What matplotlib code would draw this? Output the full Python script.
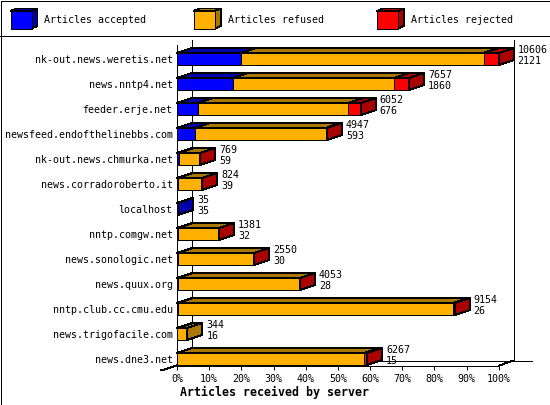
"""Articles received by server: stacked pseudo-3D horizontal bars."""

import matplotlib
matplotlib.use('Agg')
import matplotlib.pyplot as plt
from matplotlib.patches import Polygon

plt.rcParams['font.family'] = ['DejaVu Sans Mono']
plt.rcParams['lines.antialiased'] = False
plt.rcParams['patch.antialiased'] = False

servers = ['nk-out.news.weretis.net', 'news.nntp4.net', 'feeder.erje.net',
           'newsfeed.endofthelinebbs.com', 'nk-out.news.chmurka.net',
           'news.corradoroberto.it', 'localhost', 'nntp.comgw.net',
           'news.sonologic.net', 'news.quux.org', 'nntp.club.cc.cmu.edu',
           'news.trigofacile.com', 'news.dne3.net']
totals = [10606, 7657, 6052, 4947, 769, 824, 35, 1381, 2550, 4053, 9154, 344, 6267]
accepted = [2121, 1860, 676, 593, 59, 39, 35, 32, 30, 28, 26, 16, 15]
refused = [7985, 5287, 4961, 4304, 706, 781, 0, 1345, 2516, 4017, 9068, 328, 6152]
rejected = [500, 510, 415, 50, 4, 4, 0, 4, 4, 8, 60, 0, 100]
pct_ticks = [0, 10, 20, 30, 40, 50, 60, 70, 80, 90, 100]

series = [('Articles accepted', accepted, '#0000FF', '#0000AA'),
          ('Articles refused', refused, '#FFB000', '#AA7700'),
          ('Articles rejected', rejected, '#FF0000', '#AA0000')]

W, H = 550, 405
LEFT, RIGHT = 177, 498.7      # front plane, px
TOP, FLOOR = 45, 365.7
FIRST_ROW, ROW_STEP = 59, 25
BAR_PX = 12
DEPTH_X, DEPTH_Y = 15, 5
LW = 0.7
FS = 7.2
PT = 72 / 100                 # points per pixel at dpi=100

fig = plt.figure(figsize=(W / 100, H / 100), dpi=100, facecolor='white')

# pixel canvas for frame, legend and the back walls
bg = fig.add_axes([0, 0, 1, 1], zorder=0)
bg.set_xlim(0, W)
bg.set_ylim(H, 0)
bg.axis('off')


def px_line(x, y):
    bg.plot(x, y, color='black', lw=LW, solid_capstyle='butt')


px_line([0.5, 549.5, 549.5, 0.5, 0.5], [0.5, 0.5, 404.5, 404.5, 0.5])
px_line([0, 550], [35.5, 35.5])
px_line([191.5, 191.5], [40, 360.5])
px_line([513.5, 513.5], [40, 360.5])
px_line([191, 532], [360.5, 360.5])
px_line([161, 191.5], [370.5, 360.5])
px_line([498.7, 513.5], [365.7, 360.5])

for i, (name, _, front, side) in enumerate(series):
    x0 = 10.5 + i * 183.2
    bg.add_patch(Polygon([(x0, 11), (x0 + 6, 8.5), (x0 + 27, 8.5), (x0 + 21, 11)],
                         fc=side, ec='black', lw=LW))
    bg.add_patch(Polygon([(x0 + 21, 11), (x0 + 27, 8.5), (x0 + 27, 26), (x0 + 21, 28.5)],
                         fc=side, ec='black', lw=LW))
    bg.add_patch(Polygon([(x0, 11), (x0 + 21, 11), (x0 + 21, 28.5), (x0, 28.5)],
                         fc=front, ec='black', lw=LW))
    bg.text(x0 + 34, 20, name, fontsize=FS, va='center', ha='left')

# front plane axes, real data scale
ax = fig.add_axes([LEFT / W, 1 - FLOOR / H, (RIGHT - LEFT) / W, (FLOOR - TOP) / H],
                  zorder=1)
ax.patch.set_alpha(0)
max_total = max(totals)
ax.set_xlim(0, max_total)
ax.set_ylim((FLOOR - FIRST_ROW) / ROW_STEP, (TOP - FIRST_ROW) / ROW_STEP)
for s in ('top', 'right'):
    ax.spines[s].set_visible(False)
for s in ('left', 'bottom'):
    ax.spines[s].set_linewidth(LW)

ax.set_xticks([p / 100 * max_total for p in pct_ticks])
ax.set_xticklabels([f'{p}%' for p in pct_ticks], fontsize=FS)
ax.set_yticks(range(len(servers)))
ax.set_yticklabels(servers, fontsize=FS)
ax.tick_params(axis='x', length=4 * PT, width=LW, pad=4 * PT)
ax.tick_params(axis='y', length=0, pad=4.5 * PT)
ax.set_xlabel('Articles received by server', fontsize=8.4, fontweight='bold')
ax.xaxis.set_label_coords((274 - LEFT) / (RIGHT - LEFT), -(386 - FLOOR) / (FLOOR - TOP))

dx = DEPTH_X * max_total / (RIGHT - LEFT)
dy = DEPTH_Y / ROW_STEP
half = BAR_PX / ROW_STEP / 2


def add_face(points, color):
    ax.add_patch(Polygon(points, fc=color, ec='black', lw=LW, clip_on=False,
                         joinstyle='miter'))


for row in range(len(servers)):
    start = 0
    last_side = None
    for _, values, front, side in series:
        v = values[row]
        if v == 0:
            continue
        end = start + v
        add_face([(start, row - half), (start + dx, row - half - dy),
                  (end + dx, row - half - dy), (end, row - half)], side)
        add_face([(start, row - half), (end, row - half),
                  (end, row + half), (start, row + half)], front)
        start = end
        last_side = side
    add_face([(start, row - half), (start + dx, row - half - dy),
              (start + dx, row + half - dy), (start, row + half)], last_side)
    # the two numbers sit just past the bar's back edge
    ax.annotate(str(totals[row]), xy=(start, row), xytext=(19 * PT, 9 * PT),
                textcoords='offset points', fontsize=FS, va='center', ha='left',
                annotation_clip=False)
    ax.annotate(str(accepted[row]), xy=(start, row), xytext=(19 * PT, -2 * PT),
                textcoords='offset points', fontsize=FS, va='center', ha='left',
                annotation_clip=False)

fig.savefig('out.png', dpi=100, facecolor='white')
